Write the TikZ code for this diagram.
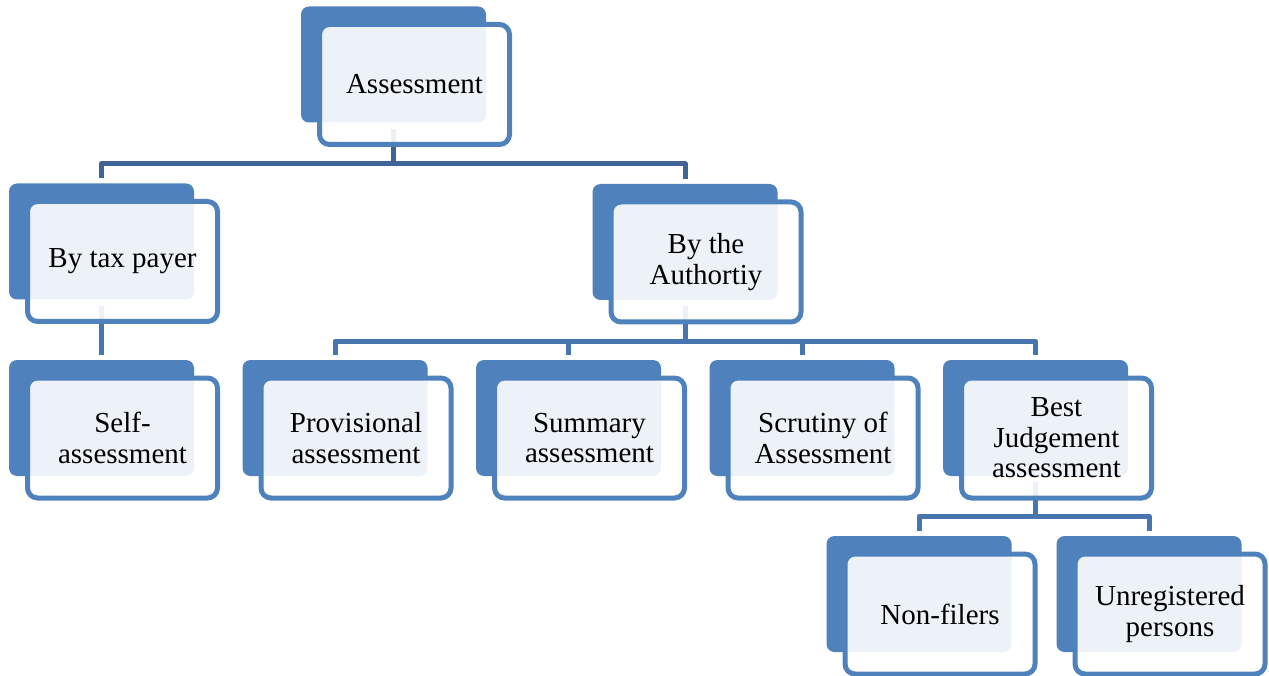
\documentclass[tikz,border=0pt]{standalone}
\usepackage{fontspec}
\setmainfont{Liberation Serif}
\usetikzlibrary{backgrounds}
\definecolor{accent}{HTML}{4F81BD}
\definecolor{toplink}{HTML}{3F6598}
\definecolor{sublink}{HTML}{4675B0}

\begin{document}
\begin{tikzpicture}[x=1pt, y=1pt,
    font=\fontsize{29}{30.5}\selectfont,
    backbox/.style={fill=accent, rounded corners=8pt, minimum width=185pt, minimum height=116pt, inner sep=0pt},
    frontbox/.style={draw=accent, line width=5pt, fill=white, fill opacity=0.9, text opacity=1,
      rounded corners=10pt, minimum width=190pt, minimum height=120pt, inner sep=0pt, align=center},
    link/.style={line width=5pt, line join=round}]
  \useasboundingbox (0,0) rectangle (1269,-676);

  % one pair per box: filled back plate, then the framed front card
  \foreach \n/\x/\y/\t in {
      assess/414.5/84.5/Assessment,
      tax/122.5/261.5/By tax payer,
      auth/706/262/{By the\\Authortiy},
      self/122.5/438/{Self-\\assessment},
      prov/356/438/{Provisional\\assessment},
      summ/589.5/438/{Summary\\assessment},
      scrut/823/438/{Scrutiny of\\Assessment},
      best/1056.5/438/{Best\\Judgement\\assessment},
      nonf/940/614/Non-filers,
      unreg/1170/614/{Unregistered\\persons}} {
    \node[backbox] (\n-b) at (\x-21, -\y+20) {};
    \node[frontbox] (\n) at (\x, -\y) {\t};
  }

  % connectors, behind the cards
  \begin{scope}[on background layer]
    \draw[link, toplink] ([yshift=-6pt]assess-b.south) -- ++(0,-35) -| ([yshift=5pt]tax-b.north);
    \draw[link, toplink] ([yshift=-6pt]assess-b.south) -- ++(0,-35) -| ([yshift=5pt]auth-b.north);
    \draw[link, sublink] ([yshift=-6pt]tax-b.south) -- ([yshift=5pt]self-b.north);
    \foreach \m in {prov, summ, scrut, best} {
      \draw[link, sublink] ([yshift=-6pt]auth-b.south) -- ++(0,-35) -| ([yshift=5pt]\m-b.north);
    }
    \foreach \m in {nonf, unreg} {
      \draw[link, sublink] ([yshift=-6pt]best-b.south) -- ++(0,-34) -| ([yshift=5pt]\m-b.north);
    }
  \end{scope}
\end{tikzpicture}
\end{document}
